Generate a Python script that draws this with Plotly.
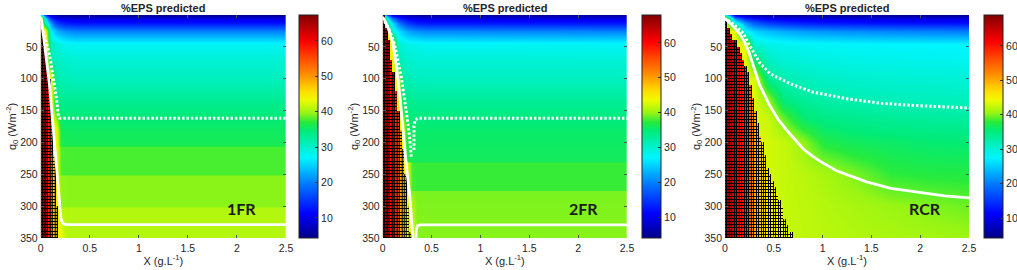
import numpy as np
import plotly.graph_objects as go

# ---------------- tick / label data ----------------
x_ticks = [0, 0.5, 1, 1.5, 2, 2.5]
x_tick_text = ["0", "0.5", "1", "1.5", "2", "2.5"]
y_ticks = [50, 100, 150, 200, 250, 300, 350]
cbar_ticks = [10, 20, 30, 40, 50, 60]
panel_labels = ["1FR", "2FR", "RCR"]
panel_title = "%EPS predicted"
cbar_ranges = [(4.3, 67.3), (4.0, 68.0), (4.2, 69.0)]

# ---------------- main %EPS field ----------------
x_cols_1 = [0, 0.05, 0.1, 0.15, 0.2, 0.25, 0.35, 2.5]
q0_rows_1 = [0, 5, 12, 25, 45, 70, 100, 140, 180, 204, 207, 250, 253, 300, 303, 350]
eps_1 = [
    [30, 14, 8, 6, 5.5, 5, 5, 5],
    [44, 24, 14, 11, 10, 9.5, 9, 9],
    [44, 30, 21, 16, 14, 13, 12.5, 12.5],
    [44, 44, 27, 23.5, 22, 21, 20, 20],
    [44, 44, 31, 29.5, 28.5, 28, 27.5, 27.5],
    [44, 44, 31.5, 30.5, 30, 29.8, 29.5, 29.5],
    [44, 44, 44, 32, 31.3, 31, 30.8, 30.8],
    [44, 44, 44, 34.5, 33.8, 33.5, 33.5, 33.5],
    [44, 44, 44, 44, 36, 35.5, 35.5, 35.5],
    [44, 44, 44, 44, 36.5, 36, 36, 36],
    [44, 44, 44, 44, 38, 37.8, 37.8, 37.8],
    [44, 44, 44, 44, 38, 37.8, 37.8, 37.8],
    [44, 44, 44, 44, 39.5, 39.3, 39.3, 39.3],
    [44, 44, 44, 44, 39.5, 39.3, 39.3, 39.3],
    [44, 44, 44, 44, 41, 40.8, 40.8, 40.8],
    [44, 44, 44, 44, 44, 40.8, 40.8, 40.8],
]

x_cols_2 = [0, 0.05, 0.1, 0.15, 0.2, 0.25, 0.3, 0.35, 0.45, 2.5]
q0_rows_2 = [0, 5, 12, 25, 45, 70, 100, 140, 180, 229, 232, 274, 277, 350]
eps_2 = [
    [30, 16, 10, 8, 7, 6, 5.5, 5, 5, 5],
    [44, 26, 18, 14, 12, 11, 10, 9.5, 9, 9],
    [44, 32, 25, 20, 17, 15, 14, 13, 12.5, 12.5],
    [44, 44, 29, 26, 24, 22.5, 21.5, 21, 20.3, 20],
    [44, 44, 44, 30, 29, 28.5, 28.2, 28, 27.7, 27.5],
    [44, 44, 44, 31.5, 30.5, 30, 29.8, 29.6, 29.5, 29.5],
    [44, 44, 44, 44, 32, 31.5, 31, 30.9, 30.8, 30.8],
    [44, 44, 44, 44, 35, 34, 33.6, 33.4, 33.3, 33.3],
    [44, 44, 44, 44, 44, 36, 35.5, 35.3, 35.3, 35.3],
    [44, 44, 44, 44, 44, 37, 36.2, 36, 36, 36],
    [44, 44, 44, 44, 44, 44, 37.8, 37.6, 37.6, 37.6],
    [44, 44, 44, 44, 44, 44, 38, 37.6, 37.6, 37.6],
    [44, 44, 44, 44, 44, 44, 39.5, 39.2, 39.2, 39.2],
    [44, 44, 44, 44, 44, 44, 44, 39.5, 39.5, 39.5],
]

x_cols_3 = [0, 0.1, 0.2, 0.3, 0.45, 0.6, 0.8, 1.0, 1.3, 1.7, 2.1, 2.5]
q0_rows_3 = [0, 5, 12, 25, 45, 70, 100, 130, 160, 200, 250, 300, 350]
eps_3 = [
    [30, 10, 7, 6, 5.5, 5, 5, 5, 5, 5, 5, 5],
    [44, 20, 14, 12, 10.5, 10, 9.5, 9.3, 9, 9, 9, 9],
    [44, 30, 22, 18, 15.5, 14.5, 13.5, 13, 12.8, 12.5, 12.5, 12.5],
    [44, 44, 28, 25.5, 24, 23, 22, 21.5, 21, 20.5, 20.2, 20],
    [44, 44, 44, 30, 29, 28.5, 28.2, 28, 27.8, 27.6, 27.5, 27.5],
    [44, 44, 44, 36, 31, 30, 29.6, 29.3, 29, 28.8, 28.6, 28.5],
    [44, 44, 44, 43.5, 34, 32.3, 31.5, 31, 30.6, 30.3, 30.1, 30],
    [44, 44, 44, 43.5, 40, 34.5, 33.3, 32.6, 32, 31.6, 31.4, 31.3],
    [44, 44, 44, 43.5, 42.5, 39, 35.5, 34.5, 34, 33.5, 33.2, 33],
    [44, 44, 44, 43.5, 43, 42.5, 40.5, 37.5, 36.5, 36, 35.6, 35.5],
    [44, 44, 44, 43.5, 43, 42.5, 42, 41.3, 40, 38, 37.6, 37.5],
    [44, 44, 44, 43.5, 43, 42.5, 42.2, 41.8, 41.3, 40.7, 40, 39.5],
    [44, 44, 44, 43.5, 43, 42.5, 42.3, 42, 41.7, 41.4, 41.1, 40.8],
]

# ---------------- high-%EPS hatched region ----------------
# value of each 0.025-wide column of the hatched region, from X = 0 rightwards
hatch_vals_1 = [60, 67, 63, 58, 52, 48, 45, 44]
hatch_vals_2 = [67, 66, 64, 60, 62, 58, 54, 50, 47, 45, 44, 44]
hatch_vals_3 = [67, 67, 66, 65, 64, 62, 60, 60, 58, 57, 55, 52, 50, 49, 48, 47,
                47, 46, 46, 45, 45, 45, 44, 44, 44, 44, 44, 44]
# right edge (X) of the hatched region for each 10-unit q0 band (0-10, 10-20, ... 340-350)
hatch_edge_1 = [0, 0.015, 0.02, 0.03, 0.04, 0.05, 0.055, 0.065, 0.075, 0.085, 0.09, 0.095,
                0.1, 0.105, 0.11, 0.115, 0.118, 0.12, 0.125, 0.128, 0.13, 0.135, 0.14,
                0.142, 0.145, 0.148, 0.15, 0.155, 0.158, 0.16, 0.163, 0.166, 0.17, 0.175, 0.18]
hatch_edge_2 = [0.015, 0.025, 0.04, 0.05, 0.065, 0.075, 0.085, 0.095, 0.105, 0.115, 0.12,
                0.13, 0.14, 0.15, 0.16, 0.17, 0.175, 0.185, 0.19, 0.2, 0.21, 0.215, 0.22,
                0.225, 0.23, 0.24, 0.245, 0.25, 0.255, 0.26, 0.265, 0.27, 0.275, 0.28, 0.29]
hatch_edge_3 = [0, 0.02, 0.05, 0.08, 0.12, 0.15, 0.175, 0.2, 0.22, 0.24, 0.25, 0.265, 0.275,
                0.29, 0.305, 0.315, 0.33, 0.345, 0.355, 0.375, 0.39, 0.405, 0.42, 0.435,
                0.45, 0.48, 0.5, 0.52, 0.545, 0.565, 0.59, 0.61, 0.635, 0.66, 0.69]

# ---------------- white curves ----------------
solid_x_1 = [0, 0.01, 0.035, 0.061, 0.09, 0.112, 0.135, 0.153, 0.175, 0.197, 0.205, 0.214, 0.235, 0.265, 2.5]
solid_q_1 = [3, 10, 40, 71, 110, 150, 190, 229, 268, 308, 318, 324, 328, 329, 329]
dot_x_1 = [0.005, 0.04, 0.078, 0.105, 0.129, 0.15, 0.163, 0.175, 0.18, 0.19, 0.2, 2.5]
dot_q_1 = [12, 32, 55, 75, 97, 116, 134, 150, 158, 161.5, 162, 162]

solid_x_2 = [0, 0.02, 0.06, 0.105, 0.14, 0.174, 0.2, 0.225, 0.25, 0.276, 0.295, 0.31, None,
             0.341, 0.343, 0.355, 0.383, 2.5]
solid_q_2 = [3, 8, 22, 45, 80, 124, 168, 213, 248, 281, 318, 352, None,
             352, 338, 331, 329.5, 329.5]
dot_x_2 = [0.02, 0.07, 0.12, 0.19, 0.24, 0.276, 0.293, None, 0.32, 0.32, 0.33, 0.36, 2.5]
dot_q_2 = [10, 24, 45, 97, 150, 192, 224, None, 212, 175, 165, 162, 162]

solid_x_3 = [0, 0.05, 0.1, 0.15, 0.2, 0.25, 0.3, 0.35, 0.45, 0.55, 0.65, 0.8, 0.9, 1.0,
             1.15, 1.3, 1.45, 1.7, 2.0, 2.25, 2.5]
solid_q_3 = [5, 12, 20, 29, 42, 60, 86, 108, 140, 165, 184, 210, 222, 232, 245, 254, 262,
             272, 279, 284, 287]
dot_x_3 = [0.03, 0.1, 0.19, 0.26, 0.36, 0.46, 0.67, 0.9, 1.25, 1.6, 1.93, 2.5]
dot_q_3 = [8, 16, 29, 50, 76, 92, 108, 121, 131.5, 138.5, 142, 146]

# ---------------- styling ----------------
W, H = 1017, 270
FONT = "Liberation Sans"
TXT = "#262626"
jet_like = [
    [0.00, "rgb(0,0,135)"], [0.11, "rgb(0,0,255)"], [0.24, "rgb(0,120,255)"],
    [0.36, "rgb(0,245,255)"], [0.42, "rgb(0,240,190)"], [0.48, "rgb(0,235,120)"],
    [0.52, "rgb(40,235,60)"], [0.56, "rgb(150,245,20)"], [0.62, "rgb(240,250,0)"],
    [0.66, "rgb(255,220,0)"], [0.73, "rgb(255,145,0)"], [0.81, "rgb(255,70,0)"],
    [0.88, "rgb(255,0,0)"], [1.00, "rgb(128,0,0)"],
]

x_dom = [(40.7 / W, 286 / W), (382.7 / W, 627 / W), (725 / W, 969 / W)]
y_dom = (1 - 238 / H, 1 - 15 / H)
cbar_left_px = [299, 641.7, 984]

panels = [
    (x_cols_1, q0_rows_1, eps_1, hatch_vals_1, hatch_edge_1, solid_x_1, solid_q_1, dot_x_1, dot_q_1),
    (x_cols_2, q0_rows_2, eps_2, hatch_vals_2, hatch_edge_2, solid_x_2, solid_q_2, dot_x_2, dot_q_2),
    (x_cols_3, q0_rows_3, eps_3, hatch_vals_3, hatch_edge_3, solid_x_3, solid_q_3, dot_x_3, dot_q_3),
]

fig = go.Figure()
layout = dict(
    width=W, height=H, margin=dict(l=0, r=0, t=0, b=0, autoexpand=False),
    paper_bgcolor="white", plot_bgcolor="white",
    font=dict(family=FONT, size=11, color=TXT), showlegend=False,
)
annotations = []

HCOL_W = 0.025   # hatched-cell width in X
HROW_H = 5.0     # hatched-cell height in q0

for i, (xc, qr, ez, hv, he, sx, sq, dx, dq) in enumerate(panels):
    sfx = "" if i == 0 else str(i + 1)
    xa, ya, ca = "x" + sfx, "y" + sfx, "coloraxis" + sfx

    # main field
    fig.add_trace(go.Heatmap(x=xc, y=qr, z=ez, coloraxis=ca, zsmooth="best",
                             xaxis=xa, yaxis=ya, hoverinfo="skip"))

    # hatched region grid
    hx = [HCOL_W * (k + 0.5) for k in range(len(hv))]
    hy = [HROW_H * (r + 0.5) for r in range(int(350 / HROW_H))]
    hz = np.full((len(hy), len(hx)), np.nan)
    for r, q in enumerate(hy):
        edge = he[min(int(q // 10), len(he) - 1)]
        for k, xv in enumerate(hx):
            if xv < edge:
                hz[r, k] = hv[k]
    mask = np.where(np.isnan(hz), np.nan, 1.0)
    fig.add_trace(go.Heatmap(x=hx, y=hy, z=mask, zmin=0, zmax=1, showscale=False,
                             colorscale=[[0, "black"], [1, "black"]], zsmooth=False,
                             xaxis=xa, yaxis=ya, hoverinfo="skip"))
    fig.add_trace(go.Heatmap(x=hx, y=hy, z=hz, coloraxis=ca, zsmooth=False, xgap=1, ygap=1,
                             xaxis=xa, yaxis=ya, hoverinfo="skip"))

    # white curves
    fig.add_trace(go.Scatter(x=sx, y=sq, mode="lines", xaxis=xa, yaxis=ya,
                             line=dict(color="white", width=2.8), hoverinfo="skip"))
    fig.add_trace(go.Scatter(x=dx, y=dq, mode="lines", xaxis=xa, yaxis=ya,
                             line=dict(color="white", width=3, dash="2.4px,2px"), hoverinfo="skip"))

    axis_common = dict(ticks="inside", ticklen=3, tickwidth=1, tickcolor="#555",
                       mirror="ticks", showline=False, showgrid=False, zeroline=False,
                       tickfont=dict(family=FONT, size=10.5, color=TXT))
    layout["xaxis" + sfx] = dict(domain=list(x_dom[i]), anchor=ya, range=[0, 2.5],
                                 tickvals=x_ticks, ticktext=x_tick_text, ticklabelstandoff=2,
                                 title=dict(text="X (g.L<sup>-1</sup>)", standoff=2,
                                            font=dict(family=FONT, size=11, color=TXT)),
                                 **axis_common)
    layout["yaxis" + sfx] = dict(domain=list(y_dom), anchor=xa, range=[350, 0],
                                 tickvals=y_ticks, ticklabelstandoff=2,
                                 title=dict(text="q<sub>0</sub> (Wm<sup>-2</sup>)", standoff=0,
                                            font=dict(family=FONT, size=11, color=TXT)),
                                 **axis_common)
    cmin, cmax = cbar_ranges[i]
    layout[ca] = dict(
        cmin=cmin, cmax=cmax, colorscale=jet_like,
        colorbar=dict(
            x=cbar_left_px[i] / W, xanchor="left", xref="paper", xpad=0,
            y=y_dom[1], yanchor="top", yref="paper", ypad=0,
            len=223, lenmode="pixels", thickness=19, thicknessmode="pixels",
            outlinewidth=1, outlinecolor="#222",
            tickvals=cbar_ticks, ticks="inside", ticklen=3, tickcolor="#333",
            tickfont=dict(family=FONT, size=10.5, color=TXT),
        ),
    )
    annotations.append(dict(text="<b>" + panel_title + "</b>", xref="paper", yref="paper",
                            x=(x_dom[i][0] + x_dom[i][1]) / 2, y=1 - 7.5 / H,
                            xanchor="center", yanchor="middle", showarrow=False,
                            font=dict(family=FONT, size=11, color=TXT)))
    annotations.append(dict(text="<b>" + panel_labels[i] + "</b>", xref=xa, yref=ya,
                            x=2.05, y=303, xanchor="center", yanchor="middle",
                            showarrow=False, font=dict(family="Lato", size=16, color="#1a1a1a")))

layout["annotations"] = annotations
fig.update_layout(**layout)
fig.write_html(
    "out.html",
    config={"displayModeBar": False},
    post_script="document.documentElement.style.margin='0';document.body.style.margin='0';"
                "document.body.style.overflow='hidden';",
)
